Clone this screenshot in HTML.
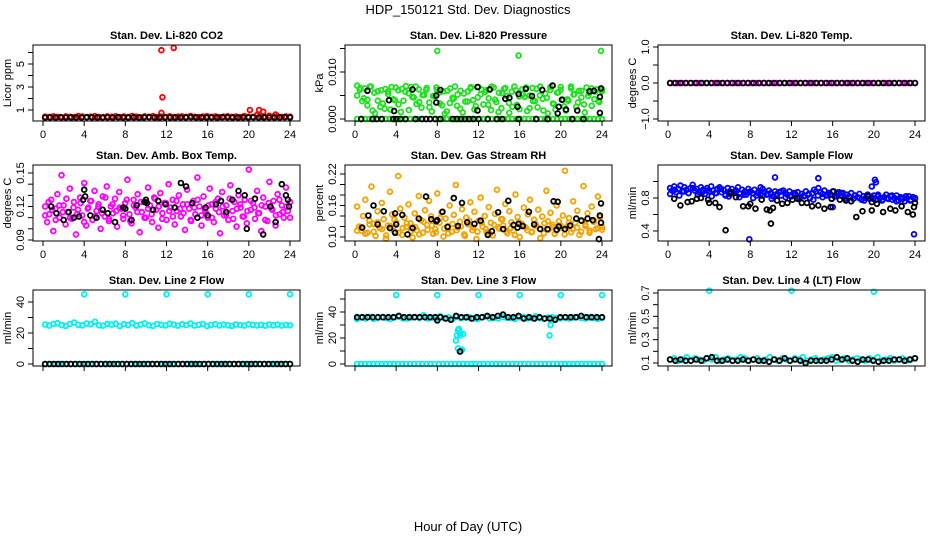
<!DOCTYPE html>
<html><head><meta charset="utf-8"><style>
html,body{margin:0;padding:0;background:#fff;}
svg{display:block;font-family:"Liberation Sans",sans-serif;}
</style></head><body>
<svg id="chart" width="936" height="540" viewBox="0 0 936 540">
<text x="468" y="14" text-anchor="middle" font-size="13">HDP_150121  Std. Dev. Diagnostics</text>
<text x="468" y="531" text-anchor="middle" font-size="13">Hour of Day (UTC)</text>
</svg>
<script>
// ---------- data ----------
const co2RedBase = [0.42,0.38,0.45,0.40,0.36,0.44,0.41,0.39,0.47,0.43,0.37,0.42,0.46,0.40,0.38,0.44,0.41,0.45,0.39,0.43,0.40,0.48,0.42,0.37,0.44,0.41,0.46,0.39,0.43,0.40,0.45,0.38,0.42,0.44,0.40,0.47,0.41,0.39,0.43,0.46,0.40,0.44,0.38,0.42,0.45,0.41,0.43,0.39,0.47,0.42,0.40,0.55,0.44,0.41,0.50,0.43,0.46,0.40,0.44,0.42];
const co2RedOutHours = [11.5,12.7,11.6,11.5,20.1,21.0,21.4,22.6];
const co2RedOutVals = [6.2,6.4,2.1,0.75,1.0,1.0,0.85,0.6];
const co2Black = [0.35,0.36,0.34,0.37,0.35,0.36,0.34,0.35,0.37,0.36,0.35,0.34,0.36,0.35,0.37,0.35,0.34,0.36,0.35,0.36,0.37,0.35,0.34,0.36,0.35,0.36,0.34,0.35,0.37,0.36,0.35,0.34,0.36,0.35,0.37,0.36,0.35,0.34,0.36,0.35,0.37,0.35,0.36,0.34,0.35,0.36,0.37,0.35];

const presGreen = [7.1,6.2,3.8,6.5,4.1,6.9,1.8,1.2,5.9,2.6,3.3,6.4,5.8,2.0,4.2,6.7,6.1,1.5,3.9,7.0,5.5,6.8,4.6,3.2,6.3,2.4,5.1,6.6,3.5,1.6,4.8,6.2,5.7,2.9,1.1,6.0,3.4,4.5,6.9,5.2,2.2,1.4,3.7,5.9,6.5,4.0,2.7,6.8,5.3,3.1,6.1,4.4,1.9,6.7,3.6,5.6,2.3,6.4,4.9,1.3,5.8,6.9,3.0,2.1,6.3,4.7,1.7,5.0,6.6,3.8,2.5,6.9,4.3,5.4,1.2,6.2,3.3,2.0,5.7,6.8,4.1,1.8,3.9,6.5,5.2,2.6,6.0,4.6,3.1,6.7,5.5,2.8,4.2,6.3,3.6,5.9];
const presGreen2 = [5.0,6.6,4.4,2.9,6.9,5.6,3.9,6.1,2.2,5.3,6.8,4.0,3.1,6.4,5.8,1.9,4.7,6.9,3.6,5.1,6.2,2.5,4.9,6.7,3.3,5.9,1.6,6.5,4.3,2.8,6.0,5.4,3.7,6.8,2.0,4.6,6.3,5.7,3.0,6.9,4.1,1.5,5.5,6.6,3.4,2.6,6.1,4.8,5.2,6.7,2.3,3.8,6.4,5.0,1.8,4.5,6.8,3.2,5.6,6.2,2.7,4.2,6.9,5.3,3.5,6.0,1.4,4.9,6.5,5.8,3.9,6.3];
const presGreenOutHours = [8.0,15.9,23.9];
const presGreenOutVals = [14.5,13.5,14.5];
const presZeros = [0,0,0,0,0,0,0,0,0,0,0,0,0,0,0,0,0,0,0,0,0,0,0,0,0,0,0,0,0,0,0,0,0,0,0,0,0,0,0,0,0,0,0,0,0,0,0,0,0,0,0,0,0,0,0,0,0,0,0,0,0];
const presBlackZeroHours = [0.6,1.7,2.1,2.6,3.7,4.0,4.4,4.9,5.9,6.5,6.9,7.3,7.8,8.3,9.5,9.9,10.3,10.7,11.1,11.5,12.0,12.9,13.8,14.3,15.9,17.6,18.7,21.1,22.2];
const presBlackZeroVals = [0,0,0,0,0,0,0,0,0,0,0,0,0,0,0,0,0,0,0,0,0,0,0,0,0,0,0,0,0];
const presBlackHours = [1.2,3.3,3.8,5.6,7.9,7.9,8.3,11.9,11.9,13.1,14.6,15.0,15.8,15.9,16.6,17.2,18.2,19.2,19.7,19.8,20.1,20.5,21.6,22.8,23.2,23.8,23.9,23.8];
const presBlackVals = [6.0,4.0,1.7,6.3,3.5,5.0,6.2,1.8,6.8,6.3,4.3,4.5,2.6,5.3,6.4,4.9,6.2,7.1,1.2,2.6,4.1,2.0,1.8,5.9,6.0,4.7,6.5,1.3];

const tempMagenta = [0,0,0,0,0,0,0,0,0,0,0,0,0,0,0,0,0,0,0,0,0,0,0,0,0,0,0,0,0,0,0,0,0,0,0,0,0,0,0,0,0,0,0,0,0,0,0,0,0,0,0,0,0,0,0,0,0,0,0,0,0];
const tempBlack = [0,0,0,0,0,0,0,0,0,0,0,0,0,0,0,0,0,0,0,0,0,0,0,0,0,0,0,0,0,0,0,0,0,0,0,0,0,0,0,0,0,0,0,0,0,0,0,0];

const ambMagenta = [120,106,113,126,98,118,131,110,148,121,104,115,136,109,124,95,117,128,112,141,103,119,125,108,134,116,122,100,129,111,138,107,120,114,127,102,133,118,109,123,144,113,105,126,119,131,97,115,124,110,137,121,106,128,117,101,132,114,123,108,140,119,126,104,116,130,111,122,99,135,118,107,125,113,146,120,103,129,115,110,136,122,106,118,127,96,133,112,121,108,139,116,124,102,130,119,111,126,105,153,117,123,109,134,114,98,128,120,107,142,118,125,103,131,113,121,110,137,116,124];
const ambMagenta2 = [112,124,117,108,121,115,127,110,119,113,123,106,118,125,111,120,114,128,109,122,116,119,112,126,107,121,115,124,110,118,113,127,120,109,123,116,111,125,118,114,122,108,119,126,112,117,121,110,124,115,120,113,127,109,118,122,111,116,125,119,114,121,108,123,117,112,126,115,120,110];
const ambBlackHours = [0.8,1.3,2.0,2.5,3.0,3.5,3.9,4.0,4.1,4.6,5.2,5.8,6.3,7.0,7.8,8.0,8.6,9.1,9.9,10.0,10.1,10.7,11.2,11.9,12.8,13.4,13.9,14.5,15.0,15.8,16.0,16.8,17.3,17.8,18.4,19.0,19.6,19.8,20.6,21.4,22.1,22.6,23.2,23.6,23.8,23.9];
const ambBlackVals = [120,114,108,115,110,111,126,135,129,112,110,117,114,106,119,118,108,121,124,126,123,117,125,122,119,141,138,123,110,119,112,122,125,115,126,134,130,100,127,95,120,106,140,130,126,120];

const rhOrange = [158,120,112,140,171,108,131,196,125,102,149,117,165,134,97,122,186,143,111,128,216,154,104,137,119,162,126,99,145,113,178,132,108,151,123,169,139,106,115,183,127,147,101,135,121,160,110,142,199,118,129,153,105,137,124,166,113,148,96,131,175,120,140,109,157,127,103,144,190,116,134,122,163,107,149,128,112,181,138,100,125,156,118,143,171,110,133,121,152,98,139,126,188,114,146,123,106,160,130,117,141,226,119,136,109,168,127,150,104,132,197,121,145,112,158,129,115,177,138,119];
const rhOrange2 = [112,118,106,124,110,128,115,103,121,133,108,117,126,111,119,105,129,114,122,109,136,116,107,125,113,120,102,131,118,110,127,115,106,123,119,134,111,117,104,128,121,113,109,125,116,107,130,119,112,122,105,127,115,118,110,124,108,132,117,114];
const rhBlackHours = [0.7,1.3,1.8,2.2,2.8,3.4,3.9,3.9,4.0,4.6,5.1,5.6,6.2,6.9,7.4,7.9,8.0,8.5,9.0,9.6,10.0,10.4,10.9,11.6,12.2,12.9,13.3,13.9,14.4,14.9,15.4,15.8,15.9,16.3,16.9,17.4,18.0,18.7,19.3,19.6,19.7,19.8,20.4,20.9,21.5,22.0,22.6,23.1,23.7,23.8,23.9,23.9];
const rhBlackVals = [118,141,160,124,149,117,145,108,124,142,105,117,135,177,134,130,132,148,119,174,121,165,128,125,131,104,111,147,115,169,123,118,125,121,148,124,115,115,168,114,167,120,115,122,135,131,135,132,96,141,164,127];

const flowBlue = [92,89,94,87,91,95,88,93,90,86,92,96,89,91,87,93,90,85,92,88,94,89,86,91,93,87,90,84,92,88,91,86,89,93,85,90,87,84,91,88,86,90,83,88,85,91,87,84,89,86,82,88,85,87,83,89,86,84,88,82,86,84,87,81,85,83,88,84,80,86,90,88,92,87,85,89,83,86,84,88,82,85,87,83,86,80,84,82,86,79,83,81,85,78,82,80,84,79,81,83,78,82,80,77,81,84,79,82,78,80,83,77,81,79,76,80,82,78,81,79];
const flowBlue2 = [85,90,83,88,86,92,84,87,89,82,86,91,83,85,88,81,84,87,80,86,83,85,79,84,88,81,83,86,80,82,85,78,83,81,84,79,82,86,78,81,83,80,77,82,79,84,78,80,83,76,79,82,77,80];
const flowBlueOutHours = [7.9,10.4,14.6,20.1,20.2,19.8,23.9,16.0,5.9,9.0];
const flowBlueOutVals = [0.30,1.05,1.04,1.02,0.99,0.94,0.36,0.69,0.82,0.93];
const flowBlackHours = [0.6,1.2,1.9,2.3,2.8,3.2,3.9,4.0,4.6,5.0,5.6,6.1,6.6,7.3,7.8,8.0,8.5,9.1,9.6,9.9,10.0,10.2,10.6,11.1,11.6,12.1,12.6,13.0,13.5,14.0,14.6,15.2,15.8,15.9,16.1,16.7,17.3,17.8,18.3,18.9,19.4,19.8,19.8,20.3,20.9,21.6,22.1,22.7,23.3,23.8,23.9,24.0];
const flowBlackVals = [0.79,0.71,0.75,0.76,0.79,0.80,0.78,0.74,0.74,0.69,0.41,0.86,0.81,0.70,0.70,0.73,0.67,0.78,0.66,0.65,0.49,0.68,0.77,0.73,0.74,0.78,0.79,0.74,0.74,0.70,0.71,0.67,0.69,0.79,0.88,0.78,0.77,0.76,0.57,0.64,0.82,0.65,0.75,0.73,0.63,0.67,0.65,0.70,0.63,0.60,0.69,0.74];

const l2Cyan = [25.5,24.8,25.9,26.3,25.1,24.6,25.8,26.7,25.3,24.9,26.1,25.6,27.2,25.0,24.7,25.9,25.4,26.0,24.5,25.7,25.2,26.4,24.8,25.5,26.2,25.0,24.6,25.8,25.3,24.9,26.0,25.4,24.7,25.6,25.1,26.1,24.8,25.3,25.9,24.5,25.2,25.7,24.9,25.4,25.0,24.6,25.5,25.1,24.8,25.6,25.2,24.9,25.3,24.7,25.5,25.0,25.4,24.8,25.2,25.0];
const l2CyanZeros = [0,0,0,0,0,0,0,0,0,0,0,0,0,0,0,0,0,0,0,0,0,0,0,0,0,0,0,0,0,0,0,0,0,0,0,0,0,0,0,0,0,0,0,0,0,0,0,0,0];
const l2Black = [0,0,0,0,0,0,0,0,0,0,0,0,0,0,0,0,0,0,0,0,0,0,0,0,0,0,0,0,0,0,0,0,0,0,0,0,0,0,0,0,0,0,0,0,0,0,0,0,0,0,0,0,0,0,0,0,0,0];
const l2OutHours = [4,8,12,16,20,24];
const l2OutVals = [45,45,45,45,45,45];

const l3Cyan = [34.5,35.8,35.0,36.2,34.8,35.5,36.0,35.2,34.6,35.9,36.4,35.1,34.9,35.7,36.1,35.3,37.5,35.0,35.6,34.7,36.8,35.4,35.9,34.8,36.3,35.2,35.7,36.0,35.1,34.6,35.8,36.5,35.0,35.4,34.9,36.1,35.6,35.3,34.7,35.9,36.2,35.0,35.5,36.6,35.2,34.8,35.7,36.0,35.3,35.1,35.8,34.9,35.6,36.1,35.4,35.0,35.7,35.2,34.8,35.5];
const l3CyanZeros = [0,0,0,0,0,0,0,0,0,0,0,0,0,0,0,0,0,0,0,0,0,0,0,0,0,0,0,0,0,0,0,0,0,0,0,0,0,0,0,0,0,0,0,0,0,0,0,0,0,0,0,0,0,0,0,0,0,0,0,0,0];
const l3CyanDipHours = [9.8,9.9,10.0,10.1,10.2,10.3,10.4,10.0,10.2,18.9,19.0,10.5];
const l3CyanDipVals = [18,22,26,27,24,10,11,12,22,22,30,23];
const l3Black = [36,36,36,36,36,36,36,36,37,36,36,36,36,36,36,36,36,35,34,37,36,36,35,36,36,37,36,37,38,36,36,37,35,36,35,36,35,35,34,36,36,36,36,37,36,36,36,36];
const l3BlackLowHours = [10.2,8.0];
const l3BlackLowVals = [9.5,33.5];
const l3OutHours = [4,8,12,16,20,24];
const l3OutVals = [53,53,53,53,53,53];

const l4Cyan = [0.13,0.14,0.12,0.13,0.15,0.12,0.14,0.13,0.12,0.14,0.13,0.15,0.12,0.13,0.14,0.12,0.13,0.15,0.14,0.12,0.13,0.14,0.12,0.13,0.15,0.13,0.12,0.14,0.13,0.12,0.14,0.13,0.15,0.12,0.13,0.14,0.12,0.13,0.14,0.15,0.12,0.13,0.14,0.12,0.13,0.14,0.13,0.12,0.14,0.13,0.15,0.12,0.13,0.14,0.12,0.13,0.14,0.12,0.13,0.14];
const l4Black = [0.13,0.12,0.13,0.12,0.12,0.13,0.12,0.14,0.15,0.12,0.12,0.13,0.12,0.12,0.13,0.12,0.13,0.12,0.12,0.11,0.13,0.12,0.14,0.12,0.13,0.12,0.10,0.12,0.12,0.12,0.12,0.13,0.15,0.13,0.14,0.12,0.11,0.13,0.13,0.12,0.11,0.12,0.12,0.13,0.13,0.12,0.13,0.14];
const l4OutHours = [4,12,20];
const l4OutVals = [0.72,0.72,0.71];

// ---------- ticks ----------
const xTicks = [0,4,8,12,16,20,24];
const xTickLabels = ['0','4','8','12','16','20','24'];
const co2Ticks = [1,2,3,4,5,6], co2Labels = ['1','','3','','5',''];
const presTicks = [0,0.005,0.010,0.015], presLabels = ['0.000','','0.010',''];
const tempTicks = [-1,-0.5,0,0.5,1], tempLabels = ['\u22121.0','','0.0','','1.0'];
const ambTicks = [0.09,0.10,0.11,0.12,0.13,0.14,0.15], ambLabels = ['0.09','','','0.12','','','0.15'];
const rhTicks = [0.10,0.12,0.14,0.16,0.18,0.20,0.22], rhLabels = ['0.10','','','0.16','','','0.22'];
const flowTicks = [0.4,0.6,0.8,1.0], flowLabels = ['0.4','','0.8',''];
const l2Ticks = [0,10,20,30,40], l2Labels = ['0','','20','','40'];
const l3Ticks = [0,10,20,30,40,50], l3Labels = ['0','','20','','40',''];
const l4Ticks = [0.1,0.2,0.3,0.4,0.5,0.6,0.7], l4Labels = ['0.1','','0.3','','0.5','','0.7'];

// ---------- drawing ----------
const NS = 'http://www.w3.org/2000/svg';
const svg = document.getElementById('chart');
const colL = [33,345,658], rowT = [45,165,290], W = 267, H = 76;
function mk(tag, attrs, parent){ const e=document.createElementNS(NS,tag); for(const k in attrs) e.setAttribute(k,attrs[k]); (parent||svg).appendChild(e); return e; }
function even(n){ const h=[]; for(let i=0;i<n;i++) h.push(0.2+i*23.8/(n-1)); return h; }

function panel(p){
  const L=colL[p.col], T=rowT[p.row];
  const g = mk('g',{});
  
  
  const xs = h => L+10+h*247/24;
  const ys = v => p.y1 + (v-p.v1)*(p.y2-p.y1)/(p.v2-p.v1);
  const t = mk('text',{x:L+W/2,y:T-6,'text-anchor':'middle','font-size':'11','font-weight':'bold'},g);
  t.textContent = p.title;
  
  
  p.series.forEach(s=>{
    const hrs = s.h || even(s.v.length);
    const n = Math.min(hrs.length, s.v.length);
    const sg = mk('g',{fill:'none',stroke:s.c,'stroke-width':'1.8'},g);
    
    
    for(let i=0;i<n;i++){
      const c = mk('circle',{cx:xs(hrs[i]).toFixed(1),cy:ys(s.v[i]*(s.u||1)).toFixed(1),r:'2.4'},sg);
      
      
    }
  });
  const b = mk('rect',{x:L,y:T,width:W,height:H,fill:'none',stroke:'#000','stroke-width':'1'},g);
  
  
  const xa = mk('g',{stroke:'#000','stroke-width':'1'},g);
  
  
  mk('line',{x1:xs(0),x2:xs(24),y1:T+H,y2:T+H},xa);
  xTicks.forEach((v,i)=>{
    mk('line',{x1:xs(v),x2:xs(v),y1:T+H,y2:T+H+5},xa);
    if(p.row<2){
      const tl = mk('text',{x:xs(v),y:T+H+17,'text-anchor':'middle','font-size':'11',stroke:'none',fill:'#000'},xa);
      tl.textContent = xTickLabels[i];
      
      
    }
  });
  const ya = mk('g',{stroke:'#000','stroke-width':'1'},g);
  
  
  const yt0=ys(p.ticks[0]), yt1=ys(p.ticks[p.ticks.length-1]);
  mk('line',{x1:L,x2:L,y1:yt0,y2:yt1},ya);
  p.ticks.forEach((v,i)=>{
    const y=ys(v);
    mk('line',{x1:L-5,x2:L,y1:y,y2:y},ya);
    if(p.labels[i]){
      const tl = mk('text',{x:L-9,y:y,'text-anchor':'middle','font-size':'11',stroke:'none',fill:'#000',transform:`rotate(-90 ${L-9} ${y})`},ya);
      tl.textContent = p.labels[i];
      
      
    }
  });
  const yl = mk('text',{x:L-22,y:T+H/2,'text-anchor':'middle','font-size':'11',transform:`rotate(-90 ${L-22} ${T+H/2})`},g);
  yl.textContent = p.ylab;
  
  
}

const K='#000', R='#ff0000', G='#1ee01e', M='#ff00ff', O='#f2a300', B='#0000ff', C='#00f0f0';
panel({name:'co2-panel',col:0,row:0,title:'Stan. Dev. Li-820 CO2',ylab:'Licor ppm',v1:1,y1:110,v2:5,y2:64,ticks:co2Ticks,labels:co2Labels,series:[
  {n:'co2-red',c:R,v:co2RedBase},{n:'co2-red-outliers',c:R,h:co2RedOutHours,v:co2RedOutVals},{n:'co2-black',c:K,v:co2Black}]});
panel({name:'pressure-panel',col:1,row:0,title:'Stan. Dev. Li-820 Pressure',ylab:'kPa',v1:0,y1:119,v2:0.010,y2:72,ticks:presTicks,labels:presLabels,series:[
  {n:'pressure-green',c:G,v:presGreen,u:0.001},{n:'pressure-green-2',c:G,v:presGreen2,u:0.001},{n:'pressure-green-zero',c:G,v:presZeros},
  {n:'pressure-green-outliers',c:G,h:presGreenOutHours,v:presGreenOutVals,u:0.001},
  {n:'pressure-black-zero',c:K,h:presBlackZeroHours,v:presBlackZeroVals},{n:'pressure-black',c:K,h:presBlackHours,v:presBlackVals,u:0.001}]});
panel({name:'temp-panel',col:2,row:0,title:'Stan. Dev. Li-820 Temp.',ylab:'degrees C',v1:-1,y1:119,v2:1,y2:47,ticks:tempTicks,labels:tempLabels,series:[
  {n:'temp-magenta',c:M,v:tempMagenta},{n:'temp-black',c:K,v:tempBlack}]});
panel({name:'amb-temp-panel',col:0,row:1,title:'Stan. Dev. Amb. Box Temp.',ylab:'degrees C',v1:0.09,y1:240,v2:0.15,y2:173,ticks:ambTicks,labels:ambLabels,series:[
  {n:'amb-magenta',c:M,v:ambMagenta,u:0.001},{n:'amb-magenta-2',c:M,v:ambMagenta2,u:0.001},{n:'amb-black',c:K,h:ambBlackHours,v:ambBlackVals,u:0.001}]});
panel({name:'rh-panel',col:1,row:1,title:'Stan. Dev. Gas Stream RH',ylab:'percent',v1:0.10,y1:237,v2:0.22,y2:174,ticks:rhTicks,labels:rhLabels,series:[
  {n:'rh-orange',c:O,v:rhOrange,u:0.001},{n:'rh-orange-2',c:O,v:rhOrange2,u:0.001},{n:'rh-black',c:K,h:rhBlackHours,v:rhBlackVals,u:0.001}]});
panel({name:'sample-flow-panel',col:2,row:1,title:'Stan. Dev. Sample Flow',ylab:'ml/min',v1:0.4,y1:231,v2:0.8,y2:198,ticks:flowTicks,labels:flowLabels,series:[
  {n:'flow-blue',c:B,v:flowBlue,u:0.01},{n:'flow-blue-2',c:B,v:flowBlue2,u:0.01},{n:'flow-blue-outliers',c:B,h:flowBlueOutHours,v:flowBlueOutVals},
  {n:'flow-black',c:K,h:flowBlackHours,v:flowBlackVals}]});
panel({name:'line2-panel',col:0,row:2,title:'Stan. Dev. Line 2 Flow',ylab:'ml/min',v1:0,y1:364,v2:40,y2:302,ticks:l2Ticks,labels:l2Labels,series:[
  {n:'line2-cyan',c:C,v:l2Cyan},{n:'line2-cyan-zero',c:C,v:l2CyanZeros},{n:'line2-black',c:K,v:l2Black},{n:'line2-outliers',c:C,h:l2OutHours,v:l2OutVals}]});
panel({name:'line3-panel',col:1,row:2,title:'Stan. Dev. Line 3 Flow',ylab:'ml/min',v1:0,y1:364,v2:40,y2:312,ticks:l3Ticks,labels:l3Labels,series:[
  {n:'line3-cyan',c:C,v:l3Cyan},{n:'line3-cyan-zero',c:C,v:l3CyanZeros},{n:'line3-cyan-dip',c:C,h:l3CyanDipHours,v:l3CyanDipVals},
  {n:'line3-black',c:K,v:l3Black},{n:'line3-black-low',c:K,h:l3BlackLowHours,v:l3BlackLowVals},{n:'line3-outliers',c:C,h:l3OutHours,v:l3OutVals}]});
panel({name:'line4-panel',col:2,row:2,title:'Stan. Dev. Line 4 (LT) Flow',ylab:'ml/min',v1:0.1,y1:363,v2:0.7,y2:293,ticks:l4Ticks,labels:l4Labels,series:[
  {n:'line4-cyan',c:C,v:l4Cyan},{n:'line4-black',c:K,v:l4Black},{n:'line4-outliers',c:C,h:l4OutHours,v:l4OutVals}]});
</script>
</body></html>
